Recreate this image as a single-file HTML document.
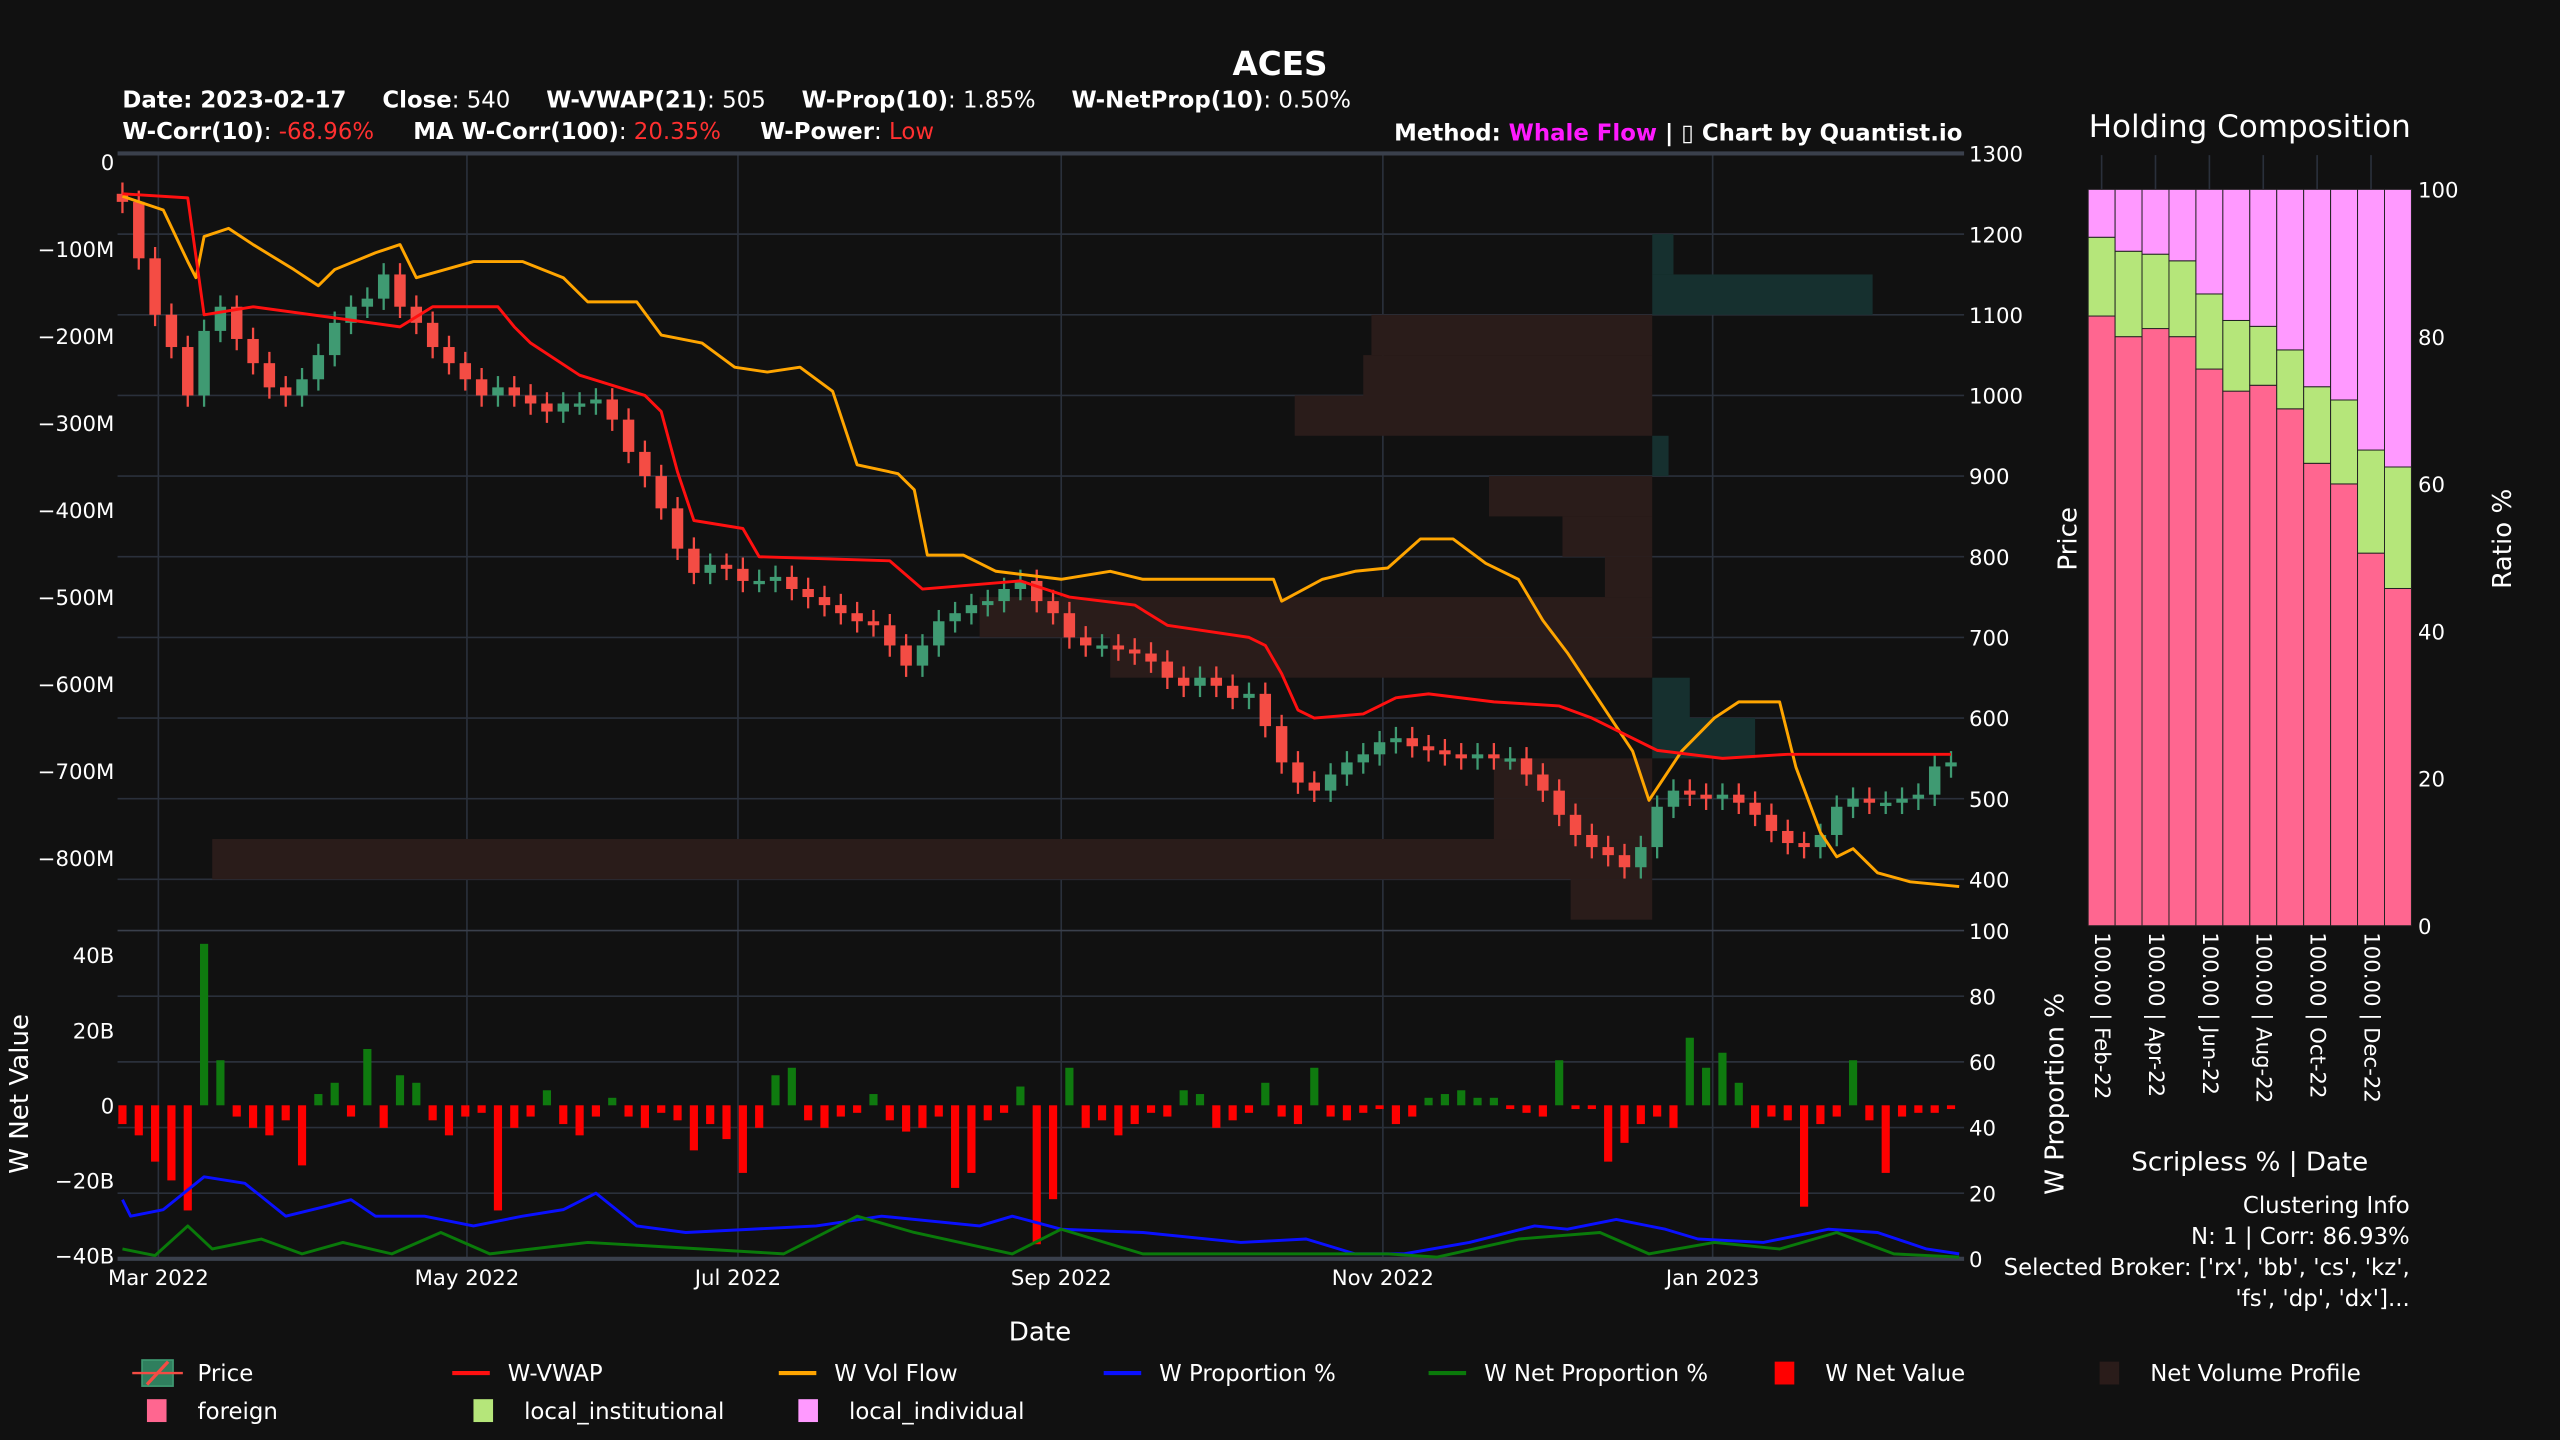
<!DOCTYPE html>
<html><head><meta charset="utf-8">
<style>
html,body{margin:0;padding:0;background:#111111;}
svg{display:block;}
text{font-family:"DejaVu Sans","Liberation Sans",sans-serif;fill:#ffffff;}
</style></head>
<body>
<svg id="chart" xmlns="http://www.w3.org/2000/svg" width="2560" height="1440" viewBox="0 0 1568 882" preserveAspectRatio="none">
<rect x="0" y="0" width="1568" height="882" fill="#111111"/>
<g id="grid"></g>
<g id="profile"></g>
<g id="candles"></g>
<g id="lines"></g>
<g id="lower"></g>
<g id="axes"></g>
<g id="holding"></g>

<text x="784" y="46" font-size="20" font-weight="bold" text-anchor="middle">ACES</text>
<text x="75" y="66" font-size="14"><tspan font-weight="bold">Date: 2023-02-17</tspan><tspan font-weight="bold" dx="22">Close</tspan>: 540<tspan font-weight="bold" dx="22">W-VWAP(21)</tspan>: 505<tspan font-weight="bold" dx="22">W-Prop(10)</tspan>: 1.85%<tspan font-weight="bold" dx="22">W-NetProp(10)</tspan>: 0.50%</text>
<text x="75" y="85" font-size="14"><tspan font-weight="bold">W-Corr(10)</tspan>: <tspan fill="#ff3030">-68.96%</tspan><tspan font-weight="bold" dx="24">MA W-Corr(100)</tspan>: <tspan fill="#ff3030">20.35%</tspan><tspan font-weight="bold" dx="24">W-Power</tspan>: <tspan fill="#ff3030">Low</tspan></text>
<text x="1202" y="86" font-size="14" font-weight="bold" text-anchor="end">Method: <tspan fill="#ff1aff">Whale Flow</tspan> | ▯ Chart by Quantist.io</text>

<text x="637" y="821" font-size="16" text-anchor="middle">Date</text>
<text transform="translate(17,670) rotate(-90)" font-size="16" text-anchor="middle">W Net Value</text>

<g id="legend"></g>
</svg>
<script>
// ---------- DATA ----------
const closes = [1240,1170,1100,1060,1000,1080,1110,1070,1040,1010,1000,1020,1050,1090,1110,1120,1150,1110,1090,1060,1040,1020,1000,1010,1000,990,980,990,990,995,970,930,900,860,810,780,790,785,770,770,775,760,750,740,730,720,715,690,665,690,720,730,740,745,760,770,745,730,700,690,690,685,680,670,650,640,650,640,625,630,590,545,520,510,530,545,555,570,575,565,560,555,550,555,550,550,530,510,480,455,440,430,415,440,490,510,505,500,505,495,480,460,445,440,455,490,500,495,495,500,505,540,545];
const vwapIdx = [0,4,5,8,17,19,23,24,25,28,32,33,34,35,38,39,47,49,55,58,62,64,69,70,71,72,73,76,78,80,84,88,90,92,94,98,102,112];
const vwapVal = [1250,1245,1100,1110,1085,1110,1110,1085,1065,1025,1000,980,905,845,835,800,795,760,770,750,740,715,700,690,655,610,600,605,625,630,620,615,600,580,560,550,555,555];
const volIdx = [0,2.5,4,4.5,5,6.5,8,10.5,12,13,15.5,17,18,21.5,24.5,27,28.5,31.5,33,35.5,37.5,39.5,41.5,43.5,45,47.5,48.5,49.3,51.5,53.5,57.5,60.5,62.5,66.5,70.5,71,73.5,75.5,77.5,79.5,81.5,83.5,85.5,87,88.5,90.5,92.5,93.5,95.5,97.5,99,101.5,102.5,104,105,106,107.5,109.5,112.5];
const volVal = [1247,1230,1166,1146,1197,1207,1187,1156,1136,1156,1177,1187,1146,1166,1166,1146,1116,1116,1075,1065,1035,1029,1035,1005,914,903,883,802,802,782,772,782,772,772,772,745,772,782,786,822,822,792,772,721,681,620,559,498,559,600,620,620,539,458,428,438,408,397,391];
const netValue = [-5,-8,-15,-20,-28,43,12,-3,-6,-8, -4,-16,3,6,-3,15,-6,8,6,-4, -8,-3,-2,-28,-6,-3,4,-5,-8,-3, 2,-3,-6,-2,-4,-12,-5,-9,-18,-6, 8,10,-4,-6,-3,-2,3,-4,-7,-6, -3,-22,-18,-4,-2,5,-37,-25,10,-6, -4,-8,-5,-2,-3,4,3,-6,-4,-2, 6,-3,-5,10,-3,-4,-2,-1,-5,-3, 2,3,4,2,2,-1,-2,-3,12,-1, -1,-15,-10,-5,-3,-6,18,10,14,6, -6,-3,-4,-27,-5,-3,12,-4,-18,-3, -2,-2,-1];
const propIdx = [0,0.5,2.5,5,7.5,10,12.5,14,15.5,18.5,21.5,24.5,27,29,31.5,34.5,38.5,42.5,46.5,52.5,54.5,57.5,62.5,68.5,72.5,75.5,78.5,82.5,86.5,88.5,91.5,94.5,96.5,100.5,104.5,107.5,110.5,112.5];
const propVal = [18,13,15,25,23,13,16,18,13,13,10,13,15,20,10,8,9,10,13,10,13,9,8,5,6,1.5,1.5,5,10,9,12,9,6,5,9,8,3,1.5];
const netPropIdx = [0,2,4,5.5,8.5,11,13.5,16.5,19.5,22.5,28.5,35.5,40.5,45,48.5,54.5,57.5,62.5,72.5,77.5,80.5,85.5,90.5,93.5,97.5,101.5,105,108.5,112.5];
const netPropVal = [3,1,10,3,6,1.5,5,1.5,8,1.5,5,3,1.5,13,8,1.5,9,1.5,1.5,1.5,0.5,6,8,1.5,5,3,8,1.5,0.5];
const profileTop = [1200,1150,1100,1050,1000,950,900,850,800,750,700,650,600,550,500,450,400];
const profileNet = [1.3,13.5,-17.2,-17.7,-21.9,1,-10,-5.5,-2.9,-41.2,-33.2,2.3,6.3,-9.7,-9.7,-88.2,-5];
const leftTicks = ["0","\u2212100M","\u2212200M","\u2212300M","\u2212400M","\u2212500M","\u2212600M","\u2212700M","\u2212800M"];
const leftTickVals = [0,-100,-200,-300,-400,-500,-600,-700,-800];
const priceTicks = [1300,1200,1100,1000,900,800,700,600,500,400];
const netTicks = ["40B","20B","0","\u221220B","\u221240B"];
const netTickVals = [40,20,0,-20,-40];
const propTicks = [100,80,60,40,20,0];
const dateLabels = ["Mar 2022","May 2022","Jul 2022","Sep 2022","Nov 2022","Jan 2023"];
const dateIdx = [2.2,21.1,37.7,57.5,77.2,97.4];
const holdLabels = ["100.00 | Feb-22","","100.00 | Apr-22","","100.00 | Jun-22","","100.00 | Aug-22","","100.00 | Oct-22","","100.00 | Dec-22",""];
const foreign = [82.8,80.0,81.1,80.0,75.6,72.6,73.4,70.2,62.8,60.0,50.6,45.8];
const institutional = [10.7,11.6,10.1,10.3,10.2,9.6,8.0,8.0,10.4,11.4,14.0,16.5];
const individual = [6.5,8.4,8.8,9.7,14.2,17.8,18.6,21.8,26.8,28.6,35.4,37.7];
const ratioTicks = [100,80,60,40,20,0];

// ---------- SCALES ----------
const NS="http://www.w3.org/2000/svg";
const X0=72, X1=1203;
const xI = i => 75 + 10*i;
const yP = p => 94 + (1300-p)*0.494;
const yM = m => 99 + (-m)*0.533;
const yN = b => 677 - b*2.3;
const yPr = v => 771 - v*2.01;
const hX0=1279, hBW=16.5;
const yR = v => 567 - v*4.51;
function mk(tag, attrs, parent){const e=document.createElementNS(NS,tag);for(const k in attrs)e.setAttribute(k,attrs[k]);parent.appendChild(e);return e;}
const G=id=>document.getElementById(id);

// grid
const grid=G('grid');
priceTicks.forEach(p=>{ if(p<1300){const l=mk('line',{x1:X0,x2:X1,y1:yP(p),y2:yP(p),stroke:'#2a303b','stroke-width':1},grid);

}});
propTicks.forEach(v=>{ if(v>0&&v<100){const l=mk('line',{x1:X0,x2:X1,y1:yPr(v),y2:yPr(v),stroke:'#2a303b','stroke-width':1},grid);

}});
dateIdx.forEach(d=>{const l=mk('line',{x1:xI(d),x2:xI(d),y1:94,y2:771,stroke:'#2a303b','stroke-width':1},grid);

});
[94,570,771].forEach(y=>{const l=mk('line',{x1:X0,x2:X1,y1:y,y2:y,stroke:'#3a404c','stroke-width':y==570?1:2.5},grid);

});

// profile
const prof=G('profile');
const px0=1012;
profileTop.forEach((t,i)=>{const v=profileNet[i]; const w=Math.abs(v)*10; const x=v>=0?px0:px0-w;
const r=mk('rect',{x:x,y:yP(t),width:w,height:yP(t-50)-yP(t),fill:v>=0?'#16302f':'#2a1c1a'},prof);

});

// candles
const cg=G('candles');
closes.forEach((c,i)=>{const o=i==0?1250:closes[i-1]; const up=c>=o; const col=up?'#3f9a72':'#f44c44';
const hi=Math.max(o,c)+14, lo=Math.min(o,c)-14; const x=xI(i);
const w=mk('line',{x1:x,x2:x,y1:yP(hi),y2:yP(lo),stroke:col,'stroke-width':1.4},cg);


const b=mk('rect',{x:x-3.5,y:yP(Math.max(o,c)),width:7,height:Math.max(2,Math.abs(yP(o)-yP(c))),fill:col},cg);

});

function poly(idx,vals,ys,col,w,parent,name){const pts=idx.map((d,i)=>xI(d).toFixed(1)+','+ys(vals[i]).toFixed(1)).join(' ');
const p=mk('polyline',{points:pts,fill:'none',stroke:col,'stroke-width':w,'stroke-linejoin':'round'},parent);

}
poly(volIdx,volVal,yP,'#ffa500',1.8,G('lines'),'w-vol-flow-line');
poly(vwapIdx,vwapVal,yP,'#ff1010',1.8,G('lines'),'w-vwap-line');

// lower panel
const lw=G('lower');
netValue.forEach((v,i)=>{const x=xI(i); const y=v>=0?yN(v):yN(0);
const r=mk('rect',{x:x-2.5,y:y,width:5,height:Math.abs(yN(v)-yN(0)),fill:v>=0?'#0f7a0f':'#ff0000'},lw);

});
poly(propIdx,propVal,yPr,'#0a10ff',1.8,lw,'w-proportion-line');
poly(netPropIdx,netPropVal,yPr,'#0a7a0a',1.8,lw,'w-net-proportion-line');

// axes labels
const ax=G('axes');
function txt(x,y,s,opt,name,parent){const t=mk('text',Object.assign({x:x,y:y,'font-size':13},opt||{}),parent||ax);t.textContent=s;

return t;}
leftTicks.forEach((s,i)=>txt(70,yM(leftTickVals[i])+5,s,{'text-anchor':'end'},'left-tick-label'));
priceTicks.forEach(p=>txt(1206,yP(p)+5,String(p),{},'price-tick-label'));
netTicks.forEach((s,i)=>txt(70,yN(netTickVals[i])+5,s,{'text-anchor':'end'},'net-value-tick-label'));
propTicks.forEach(v=>txt(1206,yPr(v)+5,String(v),{},'proportion-tick-label'));
dateLabels.forEach((s,i)=>txt(xI(dateIdx[i]),787,s,{'text-anchor':'middle'},'date-tick-label'));

// holding composition
const hg=G('holding');
txt(1378,84,'Holding Composition',{'font-size':19,'text-anchor':'middle'},'holding-title',hg);
for(let i=0;i<12;i+=2){const l=mk('line',{x1:hX0+hBW*(i+0.5),x2:hX0+hBW*(i+0.5),y1:95,y2:116,stroke:'#2a303b','stroke-width':1},hg);

}
foreign.forEach((f,i)=>{const x=hX0+hBW*i; const a=f, b=f+institutional[i], c=b+individual[i];
[[0,a,'#ff6690','foreign'],[a,b,'#b5e67a','institutional'],[b,Math.min(c,100),'#ff99ff','individual']].forEach(s=>{
const r=mk('rect',{x:x,y:yR(s[1]),width:hBW,height:yR(s[0])-yR(s[1]),fill:s[2],stroke:'#222','stroke-width':0.6},hg);

});
if(holdLabels[i]){const t=txt(0,0,holdLabels[i],{transform:'translate('+(x+hBW/2-4)+',571) rotate(90)'},'holding-date-label',hg);}});
ratioTicks.forEach(v=>txt(1481,yR(v)+5,String(v),{},'ratio-tick-label',hg));
txt(0,0,'Price',{'font-size':16,transform:'translate(1272,330) rotate(-90)','text-anchor':'middle'},'price-axis-title',hg);
txt(0,0,'Ratio %',{'font-size':16,transform:'translate(1538,330) rotate(-90)','text-anchor':'middle'},'ratio-axis-title',hg);
txt(0,0,'W Proportion %',{'font-size':16,transform:'translate(1264,670) rotate(-90)','text-anchor':'middle'},'w-proportion-axis-title',hg);
txt(1378,717,'Scripless % | Date',{'font-size':16,'text-anchor':'middle'},'holding-x-axis-title',hg);
txt(1476,743,'Clustering Info',{'font-size':14,'text-anchor':'end'},'clustering-title',hg);
txt(1476,762,'N: 1 | Corr: 86.93%',{'font-size':14,'text-anchor':'end'},'clustering-stats',hg);
txt(1476,781,"Selected Broker: ['rx', 'bb', 'cs', 'kz',",{'font-size':14,'text-anchor':'end'},'selected-brokers-1',hg);
txt(1476,800,"'fs', 'dp', 'dx']...",{'font-size':14,'text-anchor':'end'},'selected-brokers-2',hg);

// legend
const lg=G('legend');
function legItem(x,y,kind,col,label,name){const g=mk('g',{},lg);


if(kind=='line'){mk('line',{x1:x,x2:x+23,y1:y,y2:y,stroke:col,'stroke-width':2.5},g);}
else if(kind=='price'){mk('rect',{x:x,y:y-8,width:19,height:16,fill:'#2f7f5e',stroke:'#3f9a72'},g);mk('line',{x1:x+3,x2:x+16,y1:y+7,y2:y-7,stroke:'#f44c44','stroke-width':2},g);mk('line',{x1:x-6,x2:x+25,y1:y,y2:y,stroke:'#f44c44','stroke-width':1.5},g);}
else {mk('rect',{x:x+3,y:y-7,width:12,height:14,fill:col},g);}
const t=mk('text',{x:x+34,y:y+5,'font-size':14},g);t.textContent=label;}
legItem(87,841,'price','','Price','legend-price');
legItem(277,841,'line','#ff1010','W-VWAP','legend-w-vwap');
legItem(477,841,'line','#ffa500','W Vol Flow','legend-w-vol-flow');
legItem(676,841,'line','#0a10ff','W Proportion %','legend-w-proportion');
legItem(875,841,'line','#0a7a0a','W Net Proportion %','legend-w-net-proportion');
legItem(1084,841,'box','#ff0000','W Net Value','legend-w-net-value');
legItem(1283,841,'box','#2a1c1a','Net Volume Profile','legend-net-volume-profile');
legItem(87,864,'box','#ff6690','foreign','legend-foreign');
legItem(287,864,'box','#b5e67a','local_institutional','legend-local-institutional');
legItem(486,864,'box','#ff99ff','local_individual','legend-local-individual');
</script>
</body></html>
